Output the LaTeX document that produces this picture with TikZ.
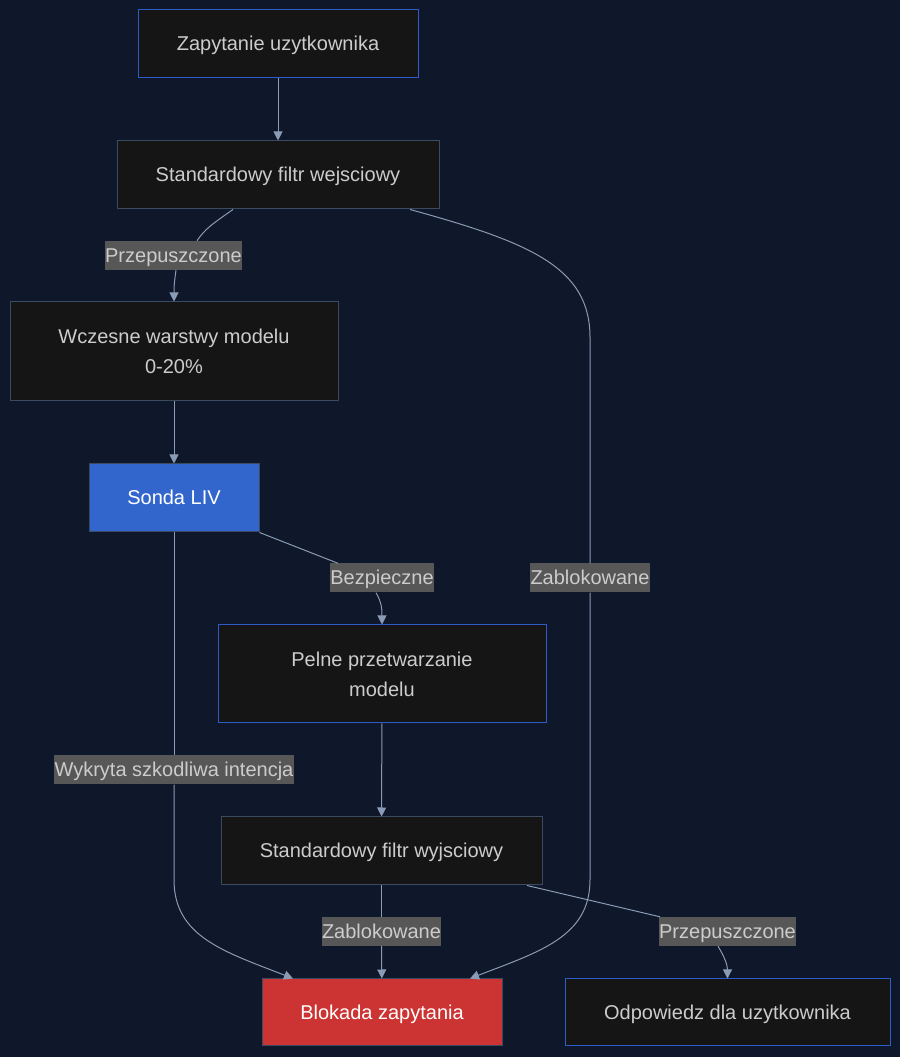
\documentclass[tikz,border=0pt]{standalone}
\usepackage{fontspec}
\setmainfont{Liberation Sans}
\usetikzlibrary{arrows.meta}
\definecolor{bg}{HTML}{0F172A}
\definecolor{boxfill}{HTML}{151515}
\definecolor{boxline}{HTML}{3A4B61}
\definecolor{blueline}{HTML}{2F5BC8}
\definecolor{boxtext}{HTML}{CCCCCC}
\definecolor{lblfill}{HTML}{575757}
\definecolor{linkcol}{HTML}{8A9BB5}
\definecolor{probe}{HTML}{3366CC}
\definecolor{blocked}{HTML}{CC3333}
\begin{document}
\begin{tikzpicture}[x=1pt, y=1pt,
  box/.style={draw=boxline, fill=boxfill, text=boxtext, line width=1pt, minimum height=68pt, inner sep=0pt, align=center, font=\fontsize{20}{30}\selectfont},
  oneline/.style={text height=18pt, text depth=4pt},
  lbl/.style={fill=lblfill, text=boxtext, inner xsep=0.5pt, inner ysep=0pt, minimum height=29pt, text height=18pt, text depth=4pt, font=\fontsize{20}{24}\selectfont},
  link/.style={draw=linkcol, line width=1pt},
  linkarr/.style={link, -{Triangle[length=9pt, width=9pt]}}]
  \fill[bg] (0,0) rectangle (900,1057);
  \useasboundingbox (0,0) rectangle (900,1057);
  \node[box, oneline, draw=blueline, minimum width=280pt] (zap) at (278,1013) {Zapytanie uzytkownika};
  \node[box, oneline, minimum width=322pt] (wej) at (278,882) {Standardowy filtr wejsciowy};
  \node[box, minimum width=328pt, minimum height=99pt] (wcz) at (174,705.5) {Wczesne warstwy modelu\\0-20\%};
  \node[box, oneline, fill=probe, text=white, minimum width=170pt] (sonda) at (174,559) {Sonda LIV};
  \node[box, draw=blueline, minimum width=328pt, minimum height=98pt] (pelne) at (382,383) {Pelne przetwarzanie\\modelu};
  \node[box, oneline, minimum width=321pt] (wyj) at (381.5,206) {Standardowy filtr wyjsciowy};
  \node[box, oneline, fill=blocked, text=white, minimum width=240pt, minimum height=67pt] (blok) at (382,44.5) {Blokada zapytania};
  \node[box, oneline, draw=blueline, minimum width=325pt, minimum height=67pt] (odp) at (727.5,44.5) {Odpowiedz dla uzytkownika};
  \node[lbl] (l1) at (173.5,801.5) {Przepuszczone};
  \node[lbl] (l2) at (382,479) {Bezpieczne};
  \node[lbl] (l3) at (590,479) {Zablokowane};
  \node[lbl] (l4) at (174,287) {Wykryta szkodliwa intencja};
  \node[lbl] (l5) at (381.5,125.5) {Zablokowane};
  \node[lbl] (l6) at (727.5,125.5) {Przepuszczone};
  \draw[linkarr] (zap) -- (wej);
  \draw[link] ([xshift=-45pt]wej.south) .. controls +(-20,-14) and +(8,12) .. ([xshift=23.5pt]l1.north);
  \draw[linkarr] ([xshift=2.5pt]l1.south) .. controls +(-2,-14) and +(0,14) .. (wcz.north);
  \draw[linkarr] (wcz) -- (sonda);
  \draw[link] (sonda.south east) -- ([xshift=-44pt]l2.north);
  \draw[linkarr] ([xshift=-6pt]l2.south) .. controls +(6,-10) and +(0,14) .. (pelne.north);
  \draw[linkarr] (pelne) -- (wyj);
  \draw[link] (wyj) -- (l5);
  \draw[linkarr] (l5) -- (blok);
  \draw[link] ([xshift=145.5pt]wyj.south) -- ([xshift=-67.5pt]l6.north);
  \draw[linkarr] ([xshift=-9.5pt]l6.south) .. controls +(6,-10) and +(0,14) .. (odp.north);
  \draw[link] ([xshift=132pt]wej.south) .. controls +(120,-33) and +(0,70) .. ([yshift=226pt]l3.north) -- (l3.north);
  \draw[linkarr] (l3.south) -- ([yshift=-287pt]l3.south) .. controls +(0,-57) and +(70,27) .. ([xshift=88pt]blok.north);
  \draw[link] (sonda) -- (l4);
  \draw[linkarr] (l4.south) -- ([yshift=-95pt]l4.south) .. controls +(0,-57) and +(-69,27) .. ([xshift=-89pt]blok.north);
\end{tikzpicture}
\end{document}
